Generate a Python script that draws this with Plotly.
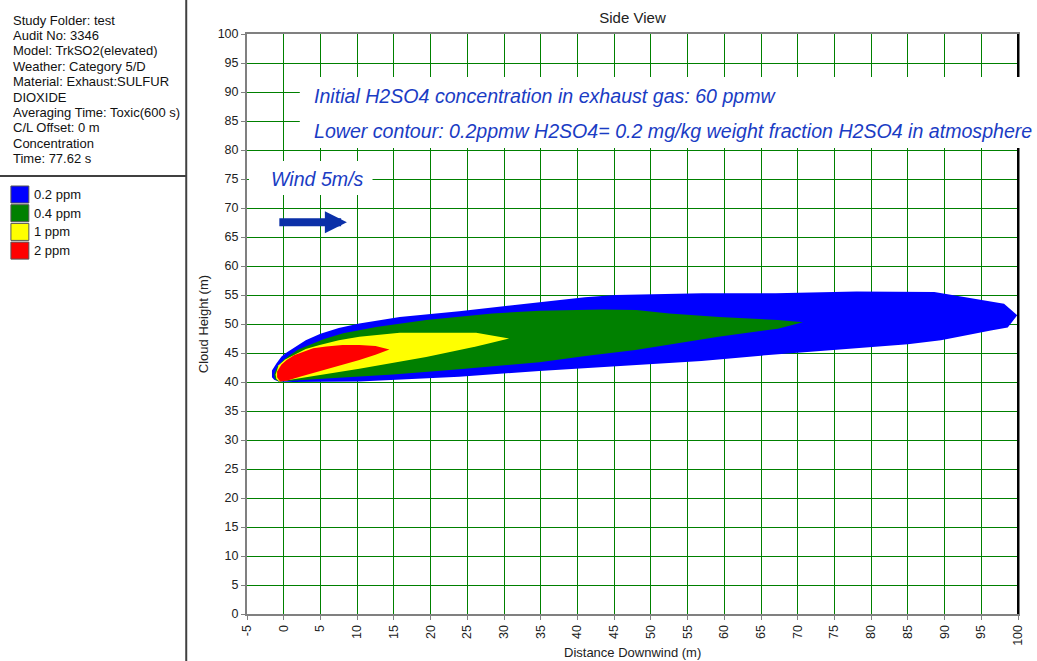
import plotly.graph_objects as go

# ---------------- data ----------------
# contour polygons (distance downwind [m], cloud height [m]); upper edge left->right, lower edge right->left
blue_x = [-1.6, -1.6, -1.0, -0.3, 0.4, 1.5, 3.0, 5.0, 7.5, 10.3, 15.8, 23.9, 32.0, 41.0, 45.2, 57.0, 67.0, 78.0, 88.6, 90.4, 98.1, 99.9,
          98.6, 96.3, 89.5, 85.0, 75.0, 64.6, 56.9, 45.2, 34.8, 23.9, 15.0, 10.3, 1.3, -0.7, -1.3]
blue_y = [40.8, 42.0, 43.2, 44.4, 45.1, 46.0, 47.2, 48.3, 49.3, 50.1, 51.2, 52.2, 53.3, 54.6, 55.0, 55.3, 55.3, 55.6, 55.5, 55.1, 53.5, 51.5,
          49.4, 48.9, 47.2, 46.5, 45.5, 44.5, 43.6, 42.7, 41.9, 40.9, 40.4, 40.1, 40.0, 40.1, 40.4]

green_x = [-1.3, -0.9, 0.0, 0.8, 2.0, 3.5, 5.5, 8.1, 12.6, 19.4, 28.4, 34.8, 43.4, 48.0, 52.5, 59.3, 67.3, 70.7,
           67.3, 59.2, 52.4, 47.9, 41.1, 34.8, 23.9, 14.9, 5.8, 1.3, -0.7, -1.2]
green_y = [41.3, 42.6, 43.8, 44.6, 45.6, 46.4, 47.4, 48.4, 49.5, 50.7, 51.8, 52.3, 52.5, 52.4, 51.8, 51.2, 50.7, 50.3,
           49.2, 47.8, 46.4, 45.5, 44.5, 43.4, 42.2, 41.3, 40.6, 40.3, 40.1, 40.5]

yellow_x = [-1.1, -0.7, 0.2, 1.3, 3.0, 4.9, 7.5, 10.3, 15.8, 26.2, 30.7,
            26.2, 19.4, 10.3, 3.5, 1.3, -0.6, -1.0]
yellow_y = [41.3, 42.9, 43.9, 44.6, 45.7, 46.4, 47.2, 47.8, 48.5, 48.5, 47.5,
            46.1, 44.3, 42.3, 40.9, 40.5, 40.1, 40.5]

red_x = [-0.9, -0.9, -0.3, 0.4, 1.4, 2.6, 4.0, 5.8, 8.0, 10.3, 12.5, 14.4,
         12.5, 10.3, 8.0, 5.8, 3.5, 2.2, 0.4, -0.5]
red_y = [40.8, 41.8, 43.0, 43.8, 44.6, 45.2, 45.8, 46.1, 46.4, 46.4, 46.2, 45.6,
         44.7, 43.8, 43.0, 42.2, 41.4, 40.9, 40.2, 40.1]

contour_labels = ["0.2 ppm", "0.4 ppm", "1 ppm", "2 ppm"]
contour_colors = ["#0000FF", "#008000", "#FFFF00", "#FF0000"]

info_lines = ["Study Folder: test", "Audit No: 3346", "Model: TrkSO2(elevated)", "Weather: Category 5/D",
              "Material: Exhaust:SULFUR", "DIOXIDE", "Averaging Time: Toxic(600 s)", "C/L Offset: 0 m",
              "Concentration", "Time: 77.62 s"]

x_ticks = list(range(-5, 101, 5))
y_ticks = list(range(0, 101, 5))

note1 = "Initial H2SO4 concentration in exhaust gas: 60 ppmw"
note2 = "Lower contour: 0.2ppmw H2SO4= 0.2 mg/kg weight fraction H2SO4 in atmosphere"
wind_text = "Wind 5m/s"
wind_arrow_from = (-0.8, 67.55)
wind_arrow_to = (8.6, 67.55)

# ---------------- layout helpers ----------------
FW, FH = 1037, 661
L, R, T, B = 247, 16, 34, 47
PW, PH = FW - L - R, FH - T - B


def px(xp):
    return (xp - L) / PW


def py(yp):
    return (T + PH - yp) / PH


FONT = "Arial, Liberation Sans, sans-serif"

fig = go.Figure()
for xs, ys, col, lab in zip([blue_x, green_x, yellow_x, red_x], [blue_y, green_y, yellow_y, red_y],
                            contour_colors, contour_labels):
    fig.add_trace(go.Scatter(x=xs + xs[:1], y=ys + ys[:1], mode="lines", fill="toself", fillcolor=col,
                             line=dict(width=0, color=col), name=lab, showlegend=False, hoverinfo="skip"))

axis_common = dict(showgrid=True, gridcolor="#008000", gridwidth=1, zeroline=False, showline=True,
                   linecolor="#808080", linewidth=2, mirror=True, ticks="outside", ticklen=4,
                   tickcolor="#808080", tickfont=dict(family=FONT, size=12.5, color="#222222"))

fig.update_layout(
    width=FW, height=FH, margin=dict(l=L, r=R, t=T, b=B),
    paper_bgcolor="white", plot_bgcolor="white",
    title=dict(text="Side View", x=px(634), xref="paper", xanchor="center", y=1 - 18 / FH, yanchor="middle",
               font=dict(family=FONT, size=15, color="#222222")),
    xaxis=dict(range=[-5, 100], tickvals=x_ticks, ticktext=[str(v) for v in x_ticks], tickangle=-90, **axis_common),
    yaxis=dict(range=[0, 100], tickvals=y_ticks, ticktext=[str(v) for v in y_ticks], **axis_common),
    showlegend=False,
)

shapes = []
# right border (black)
shapes.append(dict(type="line", xref="paper", yref="paper", x0=1, x1=1, y0=0, y1=1,
                   line=dict(color="black", width=2), layer="above"))
# white boxes behind notes
shapes.append(dict(type="rect", xref="paper", yref="paper", x0=px(300), x1=px(1037), y0=py(148), y1=py(77),
                   fillcolor="white", line=dict(width=0), layer="above"))
shapes.append(dict(type="rect", xref="paper", yref="paper", x0=px(249), x1=px(373), y0=py(195), y1=py(161),
                   fillcolor="white", line=dict(width=0), layer="above"))
# left info panel separators
shapes.append(dict(type="line", xref="paper", yref="paper", x0=px(186), x1=px(186), y0=py(FH + 2), y1=py(-2),
                   line=dict(color="#404040", width=2)))
shapes.append(dict(type="line", xref="paper", yref="paper", x0=px(-2), x1=px(186), y0=py(176), y1=py(176),
                   line=dict(color="#404040", width=2)))
# legend swatches
for i, col in enumerate(contour_colors):
    top = 186 + 18.7 * i
    shapes.append(dict(type="rect", xref="paper", yref="paper", x0=px(10), x1=px(28), y0=py(top + 17), y1=py(top),
                       fillcolor=col, line=dict(color="#555555", width=1)))
fig.update_layout(shapes=shapes)

ann = []
for i, line in enumerate(info_lines):
    ann.append(dict(text=line, xref="paper", yref="paper", x=px(10), y=py(20 + 15.4 * i), xanchor="left",
                    yanchor="middle", showarrow=False, font=dict(family=FONT, size=13, color="#111111")))
for i, lab in enumerate(contour_labels):
    ann.append(dict(text=lab, xref="paper", yref="paper", x=px(31), y=py(186 + 18.7 * i + 8.5), xanchor="left",
                    yanchor="middle", showarrow=False, font=dict(family=FONT, size=13, color="#111111")))
# axis titles
ann.append(dict(text="Cloud Height (m)", xref="paper", yref="paper", x=px(203), y=0.5, textangle=-90,
                xanchor="center", yanchor="middle", showarrow=False, font=dict(family=FONT, size=13, color="#222222")))
ann.append(dict(text="Distance Downwind (m)", xref="paper", yref="paper", x=px(634), y=py(652),
                xanchor="center", yanchor="middle", showarrow=False, font=dict(family=FONT, size=13, color="#222222")))
# notes
note_font = dict(family=FONT, size=19.6, color="#1a3cc4")
ann.append(dict(text="<i>" + note1 + "</i>", xref="paper", yref="paper", x=px(312), y=py(96), xanchor="left",
                yanchor="middle", showarrow=False, font=note_font))
ann.append(dict(text="<i>" + note2 + "</i>", xref="paper", yref="paper", x=px(312), y=py(131), xanchor="left",
                yanchor="middle", showarrow=False, font=note_font))
ann.append(dict(text="<i>" + wind_text + "</i>", xref="paper", yref="paper", x=px(269), y=py(179), xanchor="left",
                yanchor="middle", showarrow=False, font=note_font))
# wind arrow
ann.append(dict(text="", x=wind_arrow_to[0], y=wind_arrow_to[1], ax=wind_arrow_from[0], ay=wind_arrow_from[1],
                xref="x", yref="y", axref="x", ayref="y", showarrow=True, arrowhead=2, arrowsize=0.55,
                arrowwidth=8, arrowcolor="#0b30a8"))
fig.update_layout(annotations=ann)

fig.write_html("out.html")
